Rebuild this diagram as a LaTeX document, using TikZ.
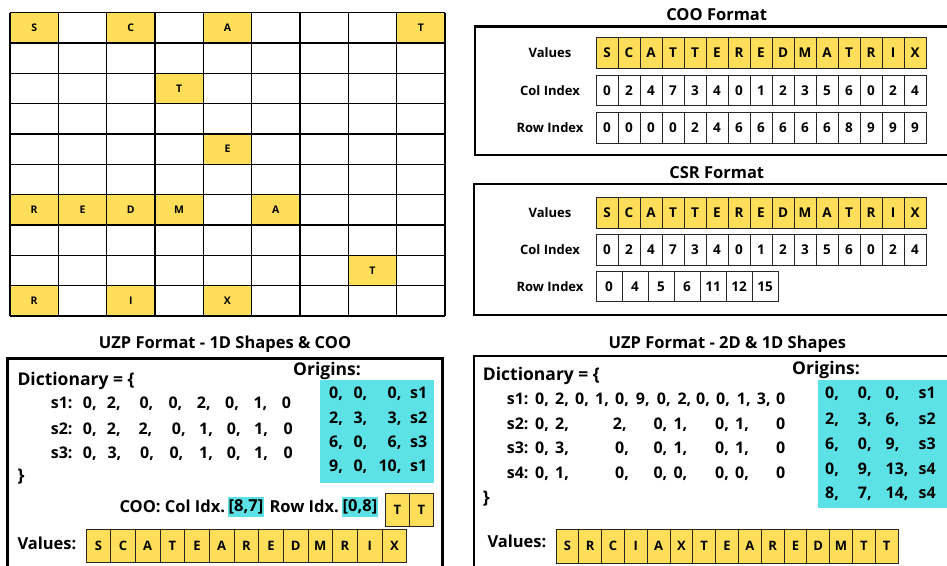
\documentclass[tikz,border=0pt]{standalone}
\usepackage{fontspec}
\setmainfont{Open Sans}
\definecolor{cellyellow}{HTML}{FFDE59}
\definecolor{hcyan}{HTML}{5CE1E6}
\tikzset{
  gcell/.style={fill=cellyellow, draw=none, minimum width=48.33pt, minimum height=30.33pt, inner sep=0pt, font=\bfseries\fontsize{10.5}{10.5}\selectfont},
  gline/.style={line width=1.5pt, black},
  acell/.style={draw=black!85, line width=0.9pt, minimum width=22pt, minimum height=30.5pt, inner sep=0pt, font=\bfseries\fontsize{13.5}{13.5}\selectfont},
  ycell/.style={acell, fill=cellyellow},
  bigbox/.style={line width=2.6pt, black},
  ttl/.style={font=\bfseries\fontsize{16.5}{16.5}\selectfont, inner sep=0pt},
  rowlbl/.style={font=\bfseries\fontsize{13}{13}\selectfont, inner sep=0pt},
  dict/.style={font=\bfseries\fontsize{17.5}{17.5}\selectfont, inner sep=0pt, anchor=base west},
  tok/.style={font=\bfseries\fontsize{16}{16}\selectfont, inner sep=0pt, anchor=base west},
  tokE/.style={tok, anchor=base east},
  cooline/.style={font=\bfseries\fontsize{16.5}{16.5}\selectfont, inner sep=0pt, anchor=base west},
  hl/.style={font=\bfseries\fontsize{16.5}{16.5}\selectfont, fill=hcyan, inner xsep=1pt, inner ysep=0pt, minimum height=20pt},
  vcell/.style={draw=black!85, fill=cellyellow, line width=0.9pt, minimum height=33.3pt, inner sep=0pt, font=\bfseries\fontsize{13}{13}\selectfont},
}
\begin{document}
\begin{tikzpicture}[x=1pt, y=-1pt]
\useasboundingbox (0,0) rectangle (947,565);
\clip (0,0) rectangle (947,565);
\fill[white] (0,0) rectangle (947,565);

% ---------------- Grid ----------------
\foreach \r/\c/\l in {0/0/S,0/2/C,0/4/A,0/8/T,2/3/T,4/4/E,6/0/R,6/1/E,6/2/D,6/3/M,6/5/A,8/7/T,9/0/R,9/2/I,9/4/X}
  \node[gcell] (g-\r-\c) at ({10+48.33*\c+24.17}, {12.7+30.33*\r+15.17}) {\l};
\foreach \c in {0,...,9}
  \draw[gline] ({10+48.33*\c}, 12.7) -- ({10+48.33*\c}, 316);
\foreach \r in {0,...,10}
  \draw[gline] (10, {12.7+30.33*\r}) -- (445, {12.7+30.33*\r});

% ---------------- COO ----------------
\node[ttl] (cootitle) at (716.7,15) {COO Format};
\draw[bigbox] (475,26.7) rectangle (960,155);
\node[rowlbl] (cooV) at (550,53) {Values};
\node[rowlbl] (cooC) at (550,90.5) {Col Index};
\node[rowlbl] (cooR) at (550,127.7) {Row Index};
\foreach \l [count=\i from 0] in {S,C,A,T,T,E,R,E,D,M,A,T,R,I,X}
  \node[ycell] (coov\i) at ({607+22*\i},53) {\l};
\foreach \l [count=\i from 0] in {0,2,4,7,3,4,0,1,2,3,5,6,0,2,4}
  \node[acell] (cooc\i) at ({607+22*\i},90.5) {\l};
\foreach \l [count=\i from 0] in {0,0,0,0,2,4,6,6,6,6,6,8,9,9,9}
  \node[acell] (coor\i) at ({607+22*\i},127.7) {\l};

% ---------------- CSR ----------------
\node[ttl] (csrtitle) at (716.7,173) {CSR Format};
\draw[bigbox] (474,184) rectangle (960,315);
\node[rowlbl] (csrV) at (550,212.8) {Values};
\node[rowlbl] (csrC) at (550,250) {Col Index};
\node[rowlbl] (csrR) at (550,286.3) {Row Index};
\foreach \l [count=\i from 0] in {S,C,A,T,T,E,R,E,D,M,A,T,R,I,X}
  \node[ycell] (csrv\i) at ({607+22*\i},212.8) {\l};
\foreach \l [count=\i from 0] in {0,2,4,7,3,4,0,1,2,3,5,6,0,2,4}
  \node[acell] (csrc\i) at ({607+22*\i},250) {\l};
\foreach \l [count=\i from 0] in {0,4,5,6,11,12,15}
  \node[acell, minimum width=26pt] (csrr\i) at ({609+26*\i},286.3) {\l};

% ---------------- UZP left ----------------
\node[ttl] (uzp1title) at (225,344) {UZP Format - 1D Shapes \& COO};
\draw[bigbox] (7.3,600) -- (7.3,358.3) -- (442.7,358.3) -- (442.7,600);
\node[dict] (d1) at (17.3,385) {Dictionary = \{};
\node[tok] (l1s1) at (50.7,408.3) {s1:};
\node[tok] (l1s2) at (50.7,434) {s2:};
\node[tok] (l1s3) at (50.7,458.3) {s3:};
\foreach \x/\t [count=\i] in {82.7/{0,},106.7/{2,},139.3/{0,},168.3/{0,},196.7/{2,},225/{0,},253.3/{1,},281.7/{0}}
  \node[tok] (l1a\i) at (\x,408.3) {\t};
\foreach \x/\t [count=\i] in {82.7/{0,},106.7/{2,},138.3/{2,},171.7/{0,},199/{1,},226.7/{0,},254/{1,},283.3/{0}}
  \node[tok] (l1b\i) at (\x,434) {\t};
\foreach \x/\t [count=\i] in {82.7/{0,},107.3/{3,},140/{0,},169.3/{0,},199/{1,},226.7/{0,},254/{1,},283.3/{0}}
  \node[tok] (l1c\i) at (\x,458.3) {\t};
\node[dict, anchor=west] (l1close) at (17.3,476.7) {\}};
\node[dict] (o1lbl) at (293,375) {Origins:};
\fill[hcyan] (320,380) rectangle (434,482.7);
\foreach \y/\a/\b/\c/\s [count=\i] in {398.3/0/0/0/s1, 423.3/2/3/3/s2, 447.3/6/0/6/s3, 471.7/9/0/10/s1}{
  \node[tok] (o1a\i) at (329,\y) {\a,};
  \node[tok] (o1b\i) at (353.3,\y) {\b,};
  \node[tokE] (o1c\i) at (401.7,\y) {\c,};
  \node[tok] (o1d\i) at (410,\y) {\s};
}
\node[cooline] (coo1) at (119.3,512.7) {COO: Col Idx.};
\node[hl] (coo2) at (246,506.7) {[8,7]};
\node[cooline] (coo3) at (269.3,512.7) {Row Idx.};
\node[hl] (coo4) at (360,506.7) {[0,8]};
\node[vcell, minimum width=23.8pt] (tt1) at (397.5,510) {T};
\node[vcell, minimum width=23.8pt] (tt2) at (421.3,510) {T};
\node[dict, font=\bfseries\fontsize{16.5}{16.5}\selectfont] (v1lbl) at (17.3,549.3) {Values:};
\foreach \l [count=\i from 0] in {S,C,A,T,E,A,R,E,D,M,R,I,X}
  \node[vcell, minimum width=24.67pt] (v1\i) at ({98.33+24.67*\i},546) {\l};

% ---------------- UZP right ----------------
\node[ttl] (uzp2title) at (727.3,344) {UZP Format - 2D \& 1D Shapes};
\draw[bigbox] (474,600) -- (474,356) -- (960,356);
\node[dict] (d2) at (482.7,380) {Dictionary = \{};
\node[tok] (r1s1) at (506.7,404) {s1:};
\node[tok] (r1s2) at (506.7,429.3) {s2:};
\node[tok] (r1s3) at (506.7,453.3) {s3:};
\node[tok] (r1s4) at (506.7,478.3) {s4:};
\foreach \x/\t [count=\i] in {535/{0,},555/{2,},575/{0,},595/{1,},615/{0,},635.7/{9,},656.7/{0,},677.3/{2,},696/{0,},716/{0,},736.7/{1,},756.7/{3,},776/{0}}
  \node[tok] (r1a\i) at (\x,404) {\t};
\foreach \x/\t [count=\i] in {535/{0,},555/{2,},612.7/{2,},653.3/{0,},673.3/{1,},715/{0,},735/{1,},776/{0}}
  \node[tok] (r1b\i) at (\x,429.3) {\t};
\foreach \x/\t [count=\i] in {535/{0,},555/{3,},615/{0,},653.3/{0,},673.3/{1,},715/{0,},735/{1,},776/{0}}
  \node[tok] (r1c\i) at (\x,453.3) {\t};
\foreach \x/\t [count=\i] in {535/{0,},555/{1,},615/{0,},653.3/{0,},673.3/{0,},715/{0,},735/{0,},776/{0}}
  \node[tok] (r1d\i) at (\x,478.3) {\t};
\node[dict, anchor=west] (r1close) at (482.7,498.3) {\}};
\node[dict] (o2lbl) at (792,374) {Origins:};
\fill[hcyan] (818.3,380) rectangle (950,507.7);
\foreach \y/\a/\b/\c/\s [count=\i] in {398.3/0/0/0/s1, 424.3/2/3/6/s2, 449/6/0/9/s3, 474/0/9/13/s4, 498.3/8/7/14/s4}{
  \node[tok] (o2a\i) at (825,\y) {\a,};
  \node[tok] (o2b\i) at (857.7,\y) {\b,};
  \node[tok] (o2c\i) at (885.5,\y) {\c,};
  \node[tok] (o2d\i) at (918.5,\y) {\s};
}
\node[dict, font=\bfseries\fontsize{16.5}{16.5}\selectfont] (v2lbl) at (487.3,547.3) {Values:};
\foreach \l [count=\i from 0] in {S,R,C,I,A,X,T,E,A,R,E,D,M,T,T}
  \node[vcell, minimum width=22.8pt] (v2\i) at ({567.4+22.8*\i},546.3) {\l};
\end{tikzpicture}
\end{document}
